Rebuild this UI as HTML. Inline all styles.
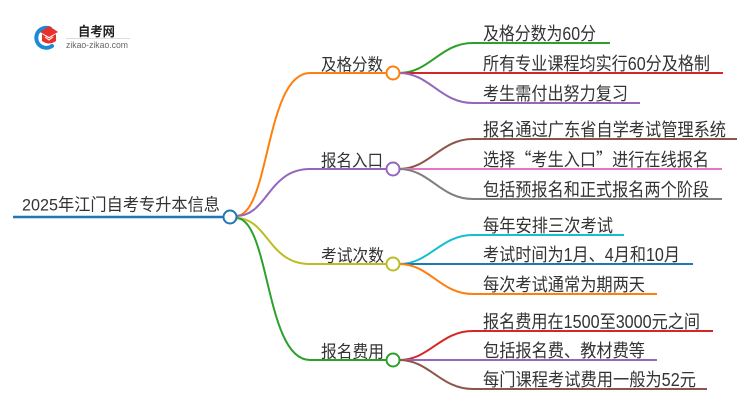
<!DOCTYPE html>
<html><head><meta charset="utf-8"><style>
html,body{margin:0;padding:0;background:#fff;}
svg{display:block;}
text{font-family:"Liberation Sans","Noto Sans CJK SC",sans-serif;fill:#333;}
.cjk{font-family:"Noto Sans CJK SC",sans-serif;}
</style></head><body>
<svg width="750" height="410" viewBox="0 0 750 410" xmlns="http://www.w3.org/2000/svg">
<!-- logo -->
<path d="M50 28.5 A10 10 0 1 0 52 46" fill="none" stroke="#1a8bd6" stroke-width="4" stroke-linecap="round"/>
<path d="M40 32 L49 26 L58 32 L49 37 Z" fill="#e8302c"/>
<path d="M42 34 L42 41 Q49 46 56 41 L56 34 L49 38.5 Z" fill="#e8302c"/>
<path d="M45 37 L49 40 L53 37" fill="none" stroke="#fff" stroke-width="1"/>
<text x="78" y="36" font-size="13" font-weight="bold" textLength="37" lengthAdjust="spacingAndGlyphs" style="fill:#222">自考网</text>
<line x1="66" y1="38.5" x2="130" y2="38.5" stroke="#ddd" stroke-width="1"/>
<text x="66" y="48" font-size="9" textLength="62" lengthAdjust="spacingAndGlyphs" style="fill:#666">zikao-zikao.com</text>

<!-- root -->
<line x1="13" y1="217" x2="223.5" y2="217" stroke="#1f77b4" stroke-width="2.5"/>
<text x="22" y="210.5" font-size="17" textLength="198" lengthAdjust="spacingAndGlyphs">2025年江门自考专升本信息</text>

<!-- branch curves -->
<g fill="none" stroke-width="2">
<path d="M236 216 C270 216 265 73 310 73 L387 73" stroke="#ff7f0e"/>
<path d="M236 216 C268 216 268 169 310 169 L387 169" stroke="#9467bd"/>
<path d="M236 218 C268 218 268 264 310 264 L387 264" stroke="#bcbd22"/>
<path d="M236 218 C270 218 265 360 310 360 L387 360" stroke="#2ca02c"/>
</g>

<circle cx="230" cy="217" r="6.5" fill="#fff" stroke="#1f77b4" stroke-width="2"/>

<!-- branch labels -->
<text x="321" y="70.5" font-size="17" textLength="62" lengthAdjust="spacingAndGlyphs">及格分数</text>
<text x="321" y="166.5" font-size="17" textLength="62" lengthAdjust="spacingAndGlyphs">报名入口</text>
<text x="321" y="261.5" font-size="17" textLength="63" lengthAdjust="spacingAndGlyphs">考试次数</text>
<text x="321" y="357.5" font-size="17" textLength="63" lengthAdjust="spacingAndGlyphs">报名费用</text>

<!-- child curves -->
<g fill="none" stroke-width="2">
<path d="M399 73 C430 73 440 43 473 43 L610 43" stroke="#2ca02c"/>
<path d="M399 73 L723 73" stroke="#d62728"/>
<path d="M399 73 C430 73 440 103 473 103 L640 103" stroke="#9467bd"/>

<path d="M399 169 C430 169 440 139 473 139 L737 139" stroke="#8c564b"/>
<path d="M399 169 L722 169" stroke="#e377c2"/>
<path d="M399 169 C430 169 440 199 473 199 L722 199" stroke="#7f7f7f"/>

<path d="M399 264 C430 264 440 235 473 235 L624 235" stroke="#17becf"/>
<path d="M399 264 L693 264" stroke="#1f77b4"/>
<path d="M399 264 C430 264 440 294 473 294 L657 294" stroke="#ff7f0e"/>

<path d="M399 360 C430 360 440 331 473 331 L713 331" stroke="#d62728"/>
<path d="M399 360 L657 360" stroke="#9467bd"/>
<path d="M399 360 C430 360 440 389 473 389 L707 389" stroke="#8c564b"/>
</g>

<circle cx="393" cy="73" r="6.5" fill="#fff" stroke="#ff7f0e" stroke-width="2"/>
<circle cx="393" cy="169" r="6.5" fill="#fff" stroke="#9467bd" stroke-width="2"/>
<circle cx="393" cy="264" r="6.5" fill="#fff" stroke="#bcbd22" stroke-width="2"/>
<circle cx="393" cy="360" r="6.5" fill="#fff" stroke="#2ca02c" stroke-width="2"/>

<!-- child labels -->
<g font-size="18">
<text x="483" y="40" textLength="113" lengthAdjust="spacingAndGlyphs">及格分数为60分</text>
<text x="483" y="70" textLength="227" lengthAdjust="spacingAndGlyphs">所有专业课程均实行60分及格制</text>
<text x="483" y="100" textLength="145" lengthAdjust="spacingAndGlyphs">考生需付出努力复习</text>

<text x="483" y="136" textLength="243" lengthAdjust="spacingAndGlyphs">报名通过广东省自学考试管理系统</text>
<text x="483" y="166" textLength="226" lengthAdjust="spacingAndGlyphs">选择<tspan class="cjk">“</tspan>考生入口<tspan class="cjk">”</tspan>进行在线报名</text>
<text x="483" y="196" textLength="226" lengthAdjust="spacingAndGlyphs">包括预报名和正式报名两个阶段</text>

<text x="483" y="232" textLength="130" lengthAdjust="spacingAndGlyphs">每年安排三次考试</text>
<text x="483" y="261" textLength="197" lengthAdjust="spacingAndGlyphs">考试时间为1月、4月和10月</text>
<text x="483" y="291" textLength="162" lengthAdjust="spacingAndGlyphs">每次考试通常为期两天</text>

<text x="483" y="328" textLength="217" lengthAdjust="spacingAndGlyphs">报名费用在1500至3000元之间</text>
<text x="483" y="357" textLength="162" lengthAdjust="spacingAndGlyphs">包括报名费、教材费等</text>
<text x="483" y="386" textLength="213" lengthAdjust="spacingAndGlyphs">每门课程考试费用一般为52元</text>
</g>
</svg>
</body></html>
